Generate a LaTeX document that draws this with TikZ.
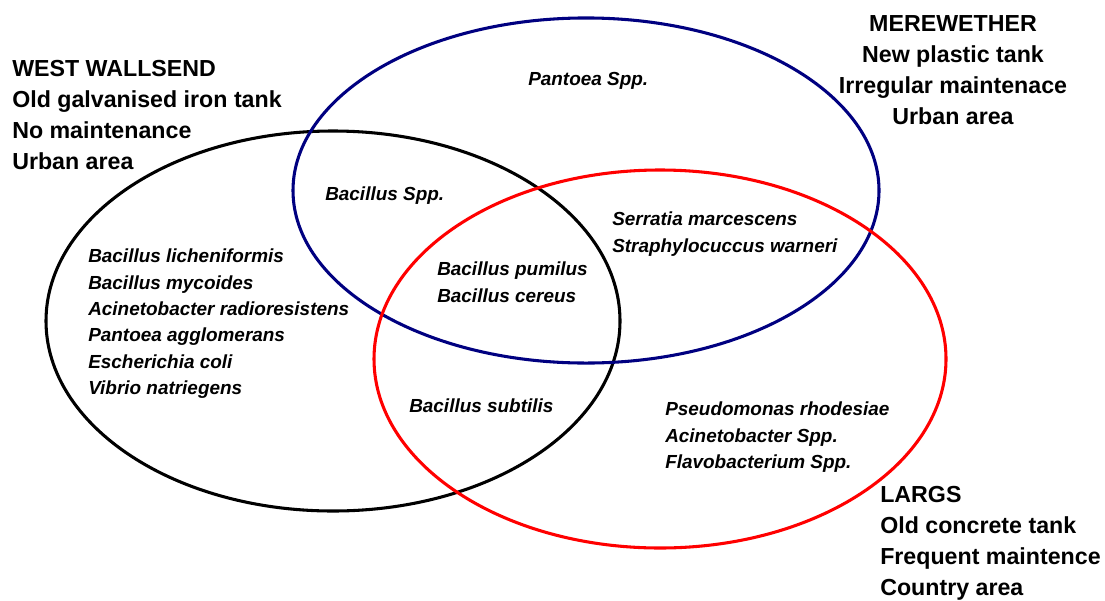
\documentclass[tikz,border=0pt]{standalone}
\usepackage{fontspec}
\setmainfont{Liberation Sans}
\definecolor{navyring}{RGB}{0,0,128}
\begin{document}
\begin{tikzpicture}[x=0.75pt,y=-0.75pt,
  ring/.style={line width=2.3pt},
  head/.style={font=\fontsize{17.4}{23.25}\selectfont\bfseries, inner sep=0pt, align=left, anchor=north west},
  sp/.style={font=\fontsize{14.2}{19.7}\selectfont\bfseries\itshape, inner sep=0pt, align=left, anchor=north west}]
\useasboundingbox (0,0) rectangle (1105,600);
\draw[ring,black] (333,321) ellipse [x radius=215.25pt, y radius=142.5pt];
\draw[ring,navyring] (586,190.5) ellipse [x radius=219.75pt, y radius=129.4pt];
\draw[ring,red] (660,359) ellipse [x radius=214.5pt, y radius=141.75pt];

\node[head] (ww) at (12,60) {WEST WALLSEND\\Old galvanised iron tank\\No maintenance\\Urban area};
\node[head, align=center, anchor=north] (mw) at (953,15) {MEREWETHER\\New plastic tank\\Irregular maintenace\\Urban area};
\node[head] (lg) at (880,486) {LARGS\\Old concrete tank\\Frequent maintence\\Country area};

\node[sp] (pan) at (528,72) {Pantoea Spp.};
\node[sp] (bsp) at (325,187) {Bacillus Spp.};
\node[sp] (bpc) at (437,262) {Bacillus pumilus\\Bacillus cereus};
\node[sp] (ser) at (612,212) {Serratia marcescens\\Straphylocuccus warneri};
\node[sp] (wsp) at (88,249) {Bacillus licheniformis\\Bacillus mycoides\\Acinetobacter radioresistens\\Pantoea agglomerans\\Escherichia coli\\Vibrio natriegens};
\node[sp] (bsu) at (409,399) {Bacillus subtilis};
\node[sp] (pse) at (665,402) {Pseudomonas rhodesiae\\Acinetobacter Spp.\\Flavobacterium Spp.};
\end{tikzpicture}
\end{document}
